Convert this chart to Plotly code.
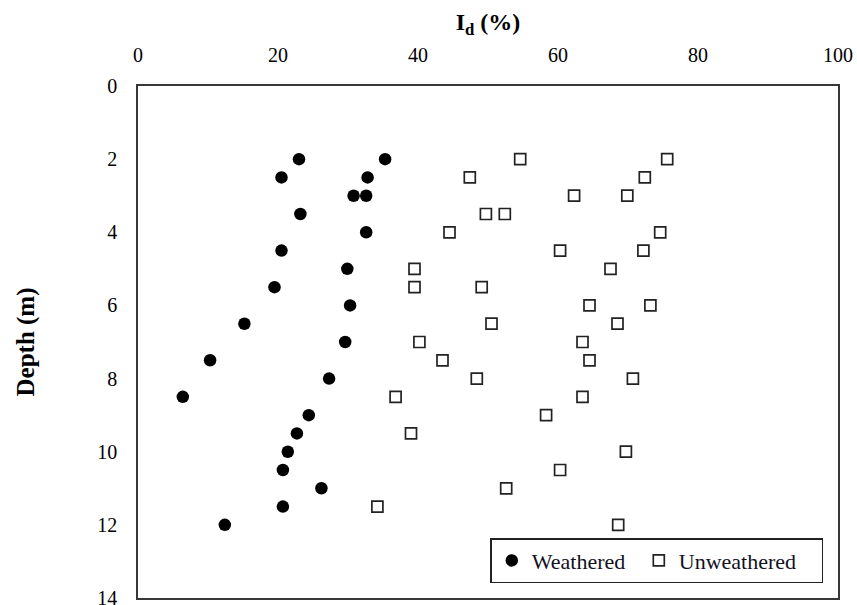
import plotly.graph_objects as go

# Point load strength index (I_d) versus depth
weathered_depth = [2.0, 2.0, 2.5, 2.5, 3.0, 3.0, 3.5, 4.0, 4.5, 5.0, 5.5, 6.0,
                   6.5, 7.0, 7.5, 8.0, 8.5, 9.0, 9.5, 10.0, 10.5, 11.0, 11.5, 12.0]
weathered_id = [23.0, 35.3, 20.5, 32.8, 30.8, 32.6, 23.2, 32.6, 20.5, 29.9, 19.5, 30.3,
                15.2, 29.6, 10.3, 27.3, 6.4, 24.4, 22.7, 21.4, 20.7, 26.2, 20.7, 12.4]

unweathered_depth = [2.0, 2.0, 2.5, 2.5, 3.0, 3.0, 3.5, 3.5, 4.0, 4.0, 4.5, 4.5,
                     5.0, 5.0, 5.5, 5.5, 6.0, 6.0, 6.5, 6.5, 7.0, 7.0, 7.5, 7.5,
                     8.0, 8.0, 8.5, 8.5, 9.0, 9.5, 10.0, 10.5, 11.0, 11.5, 12.0]
unweathered_id = [54.6, 75.6, 47.4, 72.4, 62.3, 69.9, 49.7, 52.4, 44.5, 74.6, 60.3, 72.2,
                  39.5, 67.5, 39.5, 49.1, 64.5, 73.2, 50.5, 68.5, 40.2, 63.5, 43.5, 64.5,
                  48.4, 70.7, 36.8, 63.5, 58.3, 39.0, 69.7, 60.3, 52.6, 34.2, 68.6]

x_ticks = [0, 20, 40, 60, 80, 100]
y_ticks = [0, 2, 4, 6, 8, 10, 12, 14]

serif = "Liberation Serif"

fig = go.Figure()
fig.add_trace(go.Scatter(
    x=weathered_id, y=weathered_depth, mode="markers", name="Weathered",
    marker=dict(symbol="circle", size=12.5, color="black", line=dict(width=0)),
    legendwidth=102,
))
fig.add_trace(go.Scatter(
    x=unweathered_id, y=unweathered_depth, mode="markers", name="Unweathered",
    marker=dict(symbol="square-open", size=11, color="#222222", line=dict(width=1.7)),
    legendwidth=138,
))

fig.update_layout(
    width=857, height=605,
    margin=dict(l=138, r=19, t=86, b=7),
    paper_bgcolor="white", plot_bgcolor="white",
    font=dict(family=serif, color="black"),
    legend=dict(
        orientation="h", x=0.979, xanchor="right", y=0.029, yanchor="bottom",
        bordercolor="#222222", borderwidth=1.5, bgcolor="white",
        font=dict(family=serif, size=22, color="#111122"),
        itemwidth=30,
    ),
    xaxis=dict(
        side="top", range=[0, 100], tickvals=x_ticks,
        showgrid=False, zeroline=False, ticks="",
        showline=True, mirror=True, linecolor="#383838", linewidth=1.5,
        tickfont=dict(family=serif, size=20, color="black"),
        ticklabelstandoff=14, ticklabeloverflow="allow",
        title=dict(text="I<sub>d</sub> (%)", standoff=7,
                   font=dict(family=serif, size=24, color="black", weight="bold")),
        automargin=False,
    ),
    yaxis=dict(
        range=[14, 0], tickvals=y_ticks,
        showgrid=False, zeroline=False, ticks="",
        showline=True, mirror=True, linecolor="#383838", linewidth=1.5,
        tickfont=dict(family=serif, size=20, color="black"),
        ticklabelstandoff=15, ticklabeloverflow="allow",
        title=dict(text="Depth (m)", standoff=56,
                   font=dict(family=serif, size=25, color="black", weight="bold")),
        automargin=False,
    ),
)

fig.write_html("out.html")
